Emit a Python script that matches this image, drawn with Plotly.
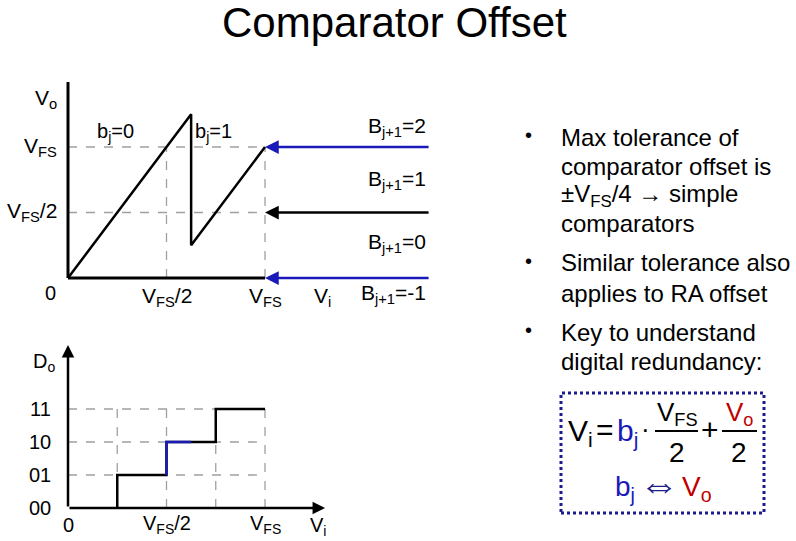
import plotly.graph_objects as go

W, H = 796, 541

# ---------------- data ----------------
# top: residue transfer curve (Vi, Vo in units of VFS)
vi_saw = [0.0, 0.625, 0.625, 1.0]
vo_saw = [0.0, 1.25, 0.25, 1.0]
# comparator/threshold levels on the right of the top plot
thr_levels = [1.0, 0.5, 0.0]
thr_labels = ["B<sub>j+1</sub>=2", "B<sub>j+1</sub>=1", "B<sub>j+1</sub>=0", "B<sub>j+1</sub>=-1"]
thr_label_vo = [1.15, 0.75, 0.27, -0.12]
thr_end = 1.838
# top ticks
top_xticks = [0.5, 1.0]
top_xtick_text = ["V<sub>FS</sub>/2", "V<sub>FS</sub>"]
top_yticks = [0.5, 1.0]
top_ytick_text = ["V<sub>FS</sub>/2", "V<sub>FS</sub>"]
bit_labels = ["b<sub>j</sub>=0", "b<sub>j</sub>=1"]
bit_label_vi = [0.24, 0.74]
# bottom: digital output staircase
step_x = [0.25, 0.25, 0.5, 0.5, 0.625, 0.75, 0.75, 1.0]
step_y = [0, 1, 1, 2, 2, 2, 3, 3]
blue_idx = (2, 5)
do_levels = [0, 1, 2, 3]
do_labels = ["00", "01", "10", "11"]
bot_xgrid = [0.25, 0.5, 0.75, 1.0]
bot_xticks = [0.0, 0.5, 1.0]
bot_xtick_text = ["0", "V<sub>FS</sub>/2", "V<sub>FS</sub>"]

# ---------------- styles ----------------
FONT = "Arial, Liberation Sans, sans-serif"
BLUE = "#1a1ab8"
NAVY = "#1c1c8c"
RED = "#c00000"
GRID = "#a0a0a0"

# axis mapping (pixel geometry)
X0, XS = 68, 197          # pixel of Vi=0, pixels per VFS
TY0, TYS = 278, 131       # top plot: pixel of Vo=0, pixels per VFS
BY0, BYS = 508, 33        # bottom plot: pixel of code 0, pixels per code step

def yaxis_cfg(ptop, pbot, y0, ys):
    return dict(domain=[(H - pbot) / H, (H - ptop) / H],
                range=[(y0 - pbot) / ys, (y0 - ptop) / ys], visible=False, fixedrange=True)

xr = [-X0 / XS, (W - X0) / XS]

fig = go.Figure()

# top curve
fig.add_trace(go.Scatter(x=vi_saw, y=vo_saw, mode="lines", line=dict(color="black", width=2.5),
                         xaxis="x", yaxis="y", hoverinfo="skip"))
# top x-axis (black part)
fig.add_trace(go.Scatter(x=[0, 1.0], y=[0, 0], mode="lines", line=dict(color="black", width=3),
                         xaxis="x", yaxis="y", hoverinfo="skip"))
# top y-axis
fig.add_trace(go.Scatter(x=[0, 0], y=[0, 1.496], mode="lines", line=dict(color="black", width=3),
                         xaxis="x", yaxis="y", hoverinfo="skip"))

# bottom staircase
fig.add_trace(go.Scatter(x=step_x, y=step_y, mode="lines", line=dict(color="black", width=2.5),
                         xaxis="x2", yaxis="y2", hoverinfo="skip"))
a, b = blue_idx
fig.add_trace(go.Scatter(x=step_x[a:b], y=step_y[a:b], mode="lines", line=dict(color=BLUE, width=2.5),
                         xaxis="x2", yaxis="y2", hoverinfo="skip"))

shapes = []
dash = dict(color=GRID, width=1.3, dash="dash")
for v in top_yticks:
    shapes.append(dict(type="line", xref="x", yref="y", x0=0, x1=1.0, y0=v, y1=v, line=dash, layer="below"))
for v in top_xticks:
    shapes.append(dict(type="line", xref="x", yref="y", x0=v, x1=v, y0=0, y1=1.0, line=dash, layer="below"))
for v in do_levels[1:]:
    shapes.append(dict(type="line", xref="x2", yref="y2", x0=0, x1=1.0, y0=v, y1=v, line=dash, layer="below"))
for v in bot_xgrid:
    shapes.append(dict(type="line", xref="x2", yref="y2", x0=v, x1=v, y0=0, y1=max(do_levels), line=dash, layer="below"))

def px(x, y):
    return x / W, 1 - y / H

ann = []
# threshold arrows
for lvl, col in zip(thr_levels, [BLUE, "black", BLUE]):
    ann.append(dict(x=1.0, y=lvl, ax=thr_end, ay=lvl, xref="x", yref="y", axref="x", ayref="y",
                    text="", showarrow=True, arrowhead=2, arrowsize=1.1, arrowwidth=2.5,
                    arrowcolor=col, standoff=0))
# bottom axes arrows
ann.append(dict(x=0, y=4.94, ax=0, ay=0, xref="x2", yref="y2", axref="x2", ayref="y2", text="",
                showarrow=True, arrowhead=2, arrowsize=1.0, arrowwidth=2.5, arrowcolor="black", standoff=0))
ann.append(dict(x=1.305, y=0, ax=0, ay=0, xref="x2", yref="y2", axref="x2", ayref="y2", text="",
                showarrow=True, arrowhead=2, arrowsize=1.0, arrowwidth=2.5, arrowcolor="black", standoff=0))

def txt(t, x, y, size=20, color="black", xanchor="center", yanchor="middle", xref="paper", yref="paper"):
    ann.append(dict(text=t, x=x, y=y, xref=xref, yref=yref, showarrow=False, xanchor=xanchor,
                    yanchor=yanchor, font=dict(family=FONT, size=size, color=color)))

# top plot labels
for v, t in zip(top_yticks, top_ytick_text):
    txt(t, -9 / XS, v, size=21, xanchor="right", xref="x", yref="y")
txt("0", -18 / XS, -15 / TYS, xref="x", yref="y")
for v, t in zip(top_xticks, top_xtick_text):
    txt(t, v, -19 / TYS, size=21, xref="x", yref="y")
txt("V<sub>i</sub>", 1.29, -19 / TYS, size=21, xref="x", yref="y")
txt("V<sub>o</sub>", -22 / XS, 1.37, size=21, xref="x", yref="y")
for v, t in zip(bit_label_vi, bit_labels):
    txt(t, v, 1.11, xref="x", yref="y")
for v, t in zip(thr_label_vo, thr_labels):
    txt(t, thr_end - 0.01, v, size=21, xanchor="right", xref="x", yref="y")

# bottom plot labels
for v, t in zip(do_levels, do_labels):
    txt(t, -15 / XS, v, xanchor="right", xref="x2", yref="y2")
for v, t in zip(bot_xticks, bot_xtick_text):
    txt(t, v, -0.5, xref="x2", yref="y2")
txt("V<sub>i</sub>", 1.27, -0.55, xref="x2", yref="y2")
txt("D<sub>o</sub>", -24 / XS, 4.4, xref="x2", yref="y2")

# title
x, y = px(394, 23)
txt("Comparator Offset", x, y, size=42)

# bullets
bullet_lines = [
    (137, "Max tolerance of", True),
    (166, "comparator offset is", False),
    (195, "±V<sub>FS</sub>/4 → simple", False),
    (223, "comparators", False),
    (263, "Similar tolerance also", True),
    (293, "applies to RA offset", False),
    (332, "Key to understand", True),
    (361, "digital redundancy:", False),
]
for yy, t, bullet in bullet_lines:
    x, y = px(559, yy)
    txt(t, x, y, size=24, xanchor="left")
    if bullet:
        x, y = px(528, yy - 2)
        txt("•", x, y, size=20)

# formula box
def pxt(t, xx, yy, size, color="black", xanchor="center"):
    x, y = px(xx, yy)
    txt(t, x, y, size=size, color=color, xanchor=xanchor)

pxt("V<sub>i</sub>", 566, 432, 30, xanchor="left")
pxt("=", 605, 429, 30)
pxt("b<sub>j</sub>", 615, 432, 30, color=BLUE, xanchor="left")
pxt("·", 645, 429, 26)
pxt("V<sub>FS</sub>", 677, 413, 26)
pxt("2", 677, 452, 28)
pxt("+", 710, 429, 30)
pxt("V<sub>o</sub>", 739, 413, 26, color=RED)
pxt("2", 739, 452, 28)
pxt("b<sub>j</sub>", 613, 488, 28, color=BLUE, xanchor="left")
pxt("⇔", 659, 484, 40, color=NAVY)
pxt("V<sub>o</sub>", 680, 488, 28, color=RED, xanchor="left")

for x0p, x1p in [(655, 698), (722, 757)]:
    x0, yl = px(x0p, 431)
    x1, _ = px(x1p, 431)
    shapes.append(dict(type="line", xref="paper", yref="paper", x0=x0, x1=x1, y0=yl, y1=yl,
                       line=dict(color="black", width=2)))
bx0, by0 = px(561, 513)
bx1, by1 = px(764, 393)
shapes.append(dict(type="rect", xref="paper", yref="paper", x0=bx0, x1=bx1, y0=by0, y1=by1,
                   line=dict(color=NAVY, width=3, dash="dot")))

fig.update_layout(
    width=W, height=H, margin=dict(l=0, r=0, t=0, b=0),
    paper_bgcolor="white", plot_bgcolor="rgba(0,0,0,0)", showlegend=False,
    xaxis=dict(domain=[0, 1], range=xr, visible=False, fixedrange=True, anchor="y"),
    yaxis=yaxis_cfg(60, 310, TY0, TYS) | dict(anchor="x"),
    xaxis2=dict(domain=[0, 1], range=xr, visible=False, fixedrange=True, anchor="y2"),
    yaxis2=yaxis_cfg(335, 541, BY0, BYS) | dict(anchor="x2"),
    shapes=shapes, annotations=ann,
)
fig.write_html("out.html", config={"displayModeBar": False},
               post_script="document.body.style.margin='0';document.body.style.overflow='hidden';")
